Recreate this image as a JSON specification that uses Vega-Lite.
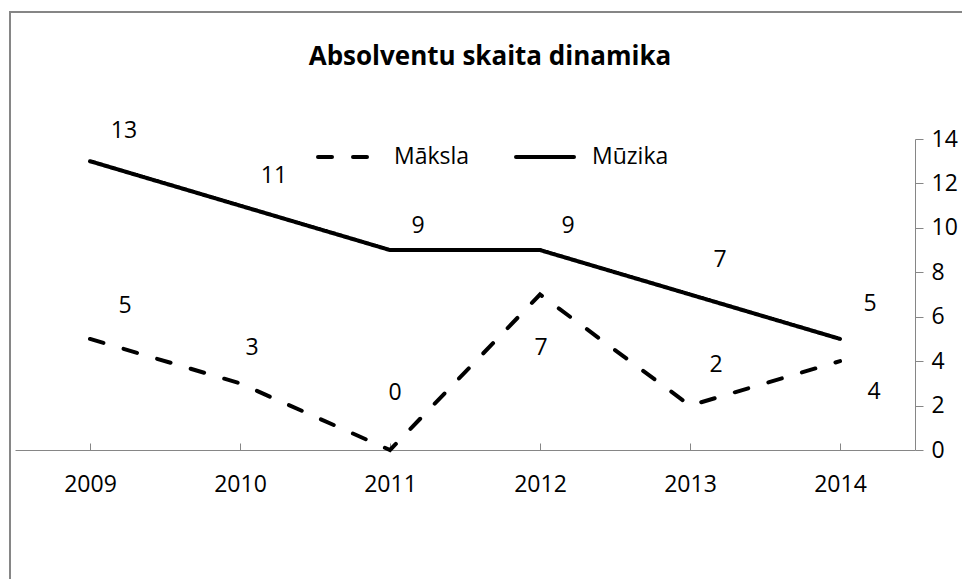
{
  "$schema": "https://vega.github.io/schema/vega-lite/v6.json",
  "autosize": "none",
  "padding": {"left": 10, "top": 12, "right": 0, "bottom": 0},
  "width": 960,
  "height": 570,
  "background": "white",
  "config": {
    "font": "Open Sans",
    "view": {"stroke": "#868686", "strokeWidth": 2},
    "axis": {"domainColor": "#868686", "tickColor": "#868686", "labelColor": "#000000", "labelFont": "Open Sans", "labelFontSize": 23, "grid": false, "title": null}
  },
  "title": {
    "text": "Absolventu skaita dinamika",
    "font": "Open Sans",
    "fontSize": 26,
    "fontWeight": "bold",
    "color": "#000000",
    "anchor": "middle",
    "frame": "group",
    "baseline": "middle",
    "offset": -36,
    "dy": 35
  },
  "data": {
    "values": [
      {"year": "2009", "series": "Māksla", "value": 5},
      {"year": "2010", "series": "Māksla", "value": 3},
      {"year": "2011", "series": "Māksla", "value": 0},
      {"year": "2012", "series": "Māksla", "value": 7},
      {"year": "2013", "series": "Māksla", "value": 2},
      {"year": "2014", "series": "Māksla", "value": 4},
      {"year": "2009", "series": "Mūzika", "value": 13},
      {"year": "2010", "series": "Mūzika", "value": 11},
      {"year": "2011", "series": "Mūzika", "value": 9},
      {"year": "2012", "series": "Mūzika", "value": 9},
      {"year": "2013", "series": "Mūzika", "value": 7},
      {"year": "2014", "series": "Mūzika", "value": 5}
    ]
  },
  "encoding": {
    "x": {
      "field": "year",
      "type": "ordinal",
      "scale": {"type": "point", "range": [5, 905], "padding": 0.5},
      "axis": {"orient": "bottom", "offset": -132, "labelAngle": 0, "tickSize": -7, "labelPadding": 30}
    },
    "y": {
      "field": "value",
      "type": "quantitative",
      "scale": {"domain": [0, 14], "range": [438, 127], "nice": false, "zero": true},
      "axis": {"orient": "right", "offset": -55, "values": [0, 2, 4, 6, 8, 10, 12, 14], "tickSize": 8, "labelPadding": 8}
    }
  },
  "layer": [
    {
      "mark": {"type": "line", "color": "#000000", "strokeWidth": 4, "strokeCap": "round", "strokeJoin": "miter"},
      "encoding": {
        "strokeDash": {
          "field": "series",
          "type": "nominal",
          "scale": {"domain": ["Māksla", "Mūzika"], "range": [[14, 21], [1, 0]]},
          "legend": {
            "title": null,
            "orient": "none",
            "legendX": 306,
            "legendY": 114,
            "direction": "horizontal",
            "columns": 2,
            "padding": 0,
            "symbolType": "stroke",
            "symbolSize": 3364,
            "symbolStrokeWidth": 4,
            "symbolStrokeColor": "#000000",
            "labelFont": "Open Sans",
            "labelFontSize": 23,
            "labelColor": "#000000",
            "labelOffset": 16,
            "columnPadding": 38,
            "encode": {"symbols": {"update": {"strokeCap": {"value": "round"}}}}
          }
        }
      }
    },
    {
      "transform": [{"filter": "datum.series == 'Mūzika' && (datum.year == '2009' || datum.year == '2010')"}],
      "mark": {"type": "text", "fontSize": 23, "color": "#000000", "dx": 34, "dy": -30},
      "encoding": {"text": {"field": "value"}}
    },
    {
      "transform": [{"filter": "datum.series == 'Mūzika' && (datum.year == '2011' || datum.year == '2012')"}],
      "mark": {"type": "text", "fontSize": 23, "color": "#000000", "dx": 28, "dy": -24},
      "encoding": {"text": {"field": "value"}}
    },
    {
      "transform": [{"filter": "datum.series == 'Mūzika' && (datum.year == '2013' || datum.year == '2014')"}],
      "mark": {"type": "text", "fontSize": 23, "color": "#000000", "dx": 30, "dy": -35},
      "encoding": {"text": {"field": "value"}}
    },
    {
      "transform": [{"filter": "datum.series == 'Māksla' && datum.year == '2009'"}],
      "mark": {"type": "text", "fontSize": 23, "color": "#000000", "dx": 35, "dy": -33},
      "encoding": {"text": {"field": "value"}}
    },
    {
      "transform": [{"filter": "datum.series == 'Māksla' && datum.year == '2010'"}],
      "mark": {"type": "text", "fontSize": 23, "color": "#000000", "dx": 12, "dy": -35},
      "encoding": {"text": {"field": "value"}}
    },
    {
      "transform": [{"filter": "datum.series == 'Māksla' && datum.year == '2011'"}],
      "mark": {"type": "text", "fontSize": 23, "color": "#000000", "dx": 5, "dy": -57},
      "encoding": {"text": {"field": "value"}}
    },
    {
      "transform": [{"filter": "datum.series == 'Māksla' && datum.year == '2012'"}],
      "mark": {"type": "text", "fontSize": 23, "color": "#000000", "dx": 1, "dy": 53},
      "encoding": {"text": {"field": "value"}}
    },
    {
      "transform": [{"filter": "datum.series == 'Māksla' && datum.year == '2013'"}],
      "mark": {"type": "text", "fontSize": 23, "color": "#000000", "dx": 26, "dy": -41},
      "encoding": {"text": {"field": "value"}}
    },
    {
      "transform": [{"filter": "datum.series == 'Māksla' && datum.year == '2014'"}],
      "mark": {"type": "text", "fontSize": 23, "color": "#000000", "dx": 34, "dy": 31},
      "encoding": {"text": {"field": "value"}}
    }
  ]
}
